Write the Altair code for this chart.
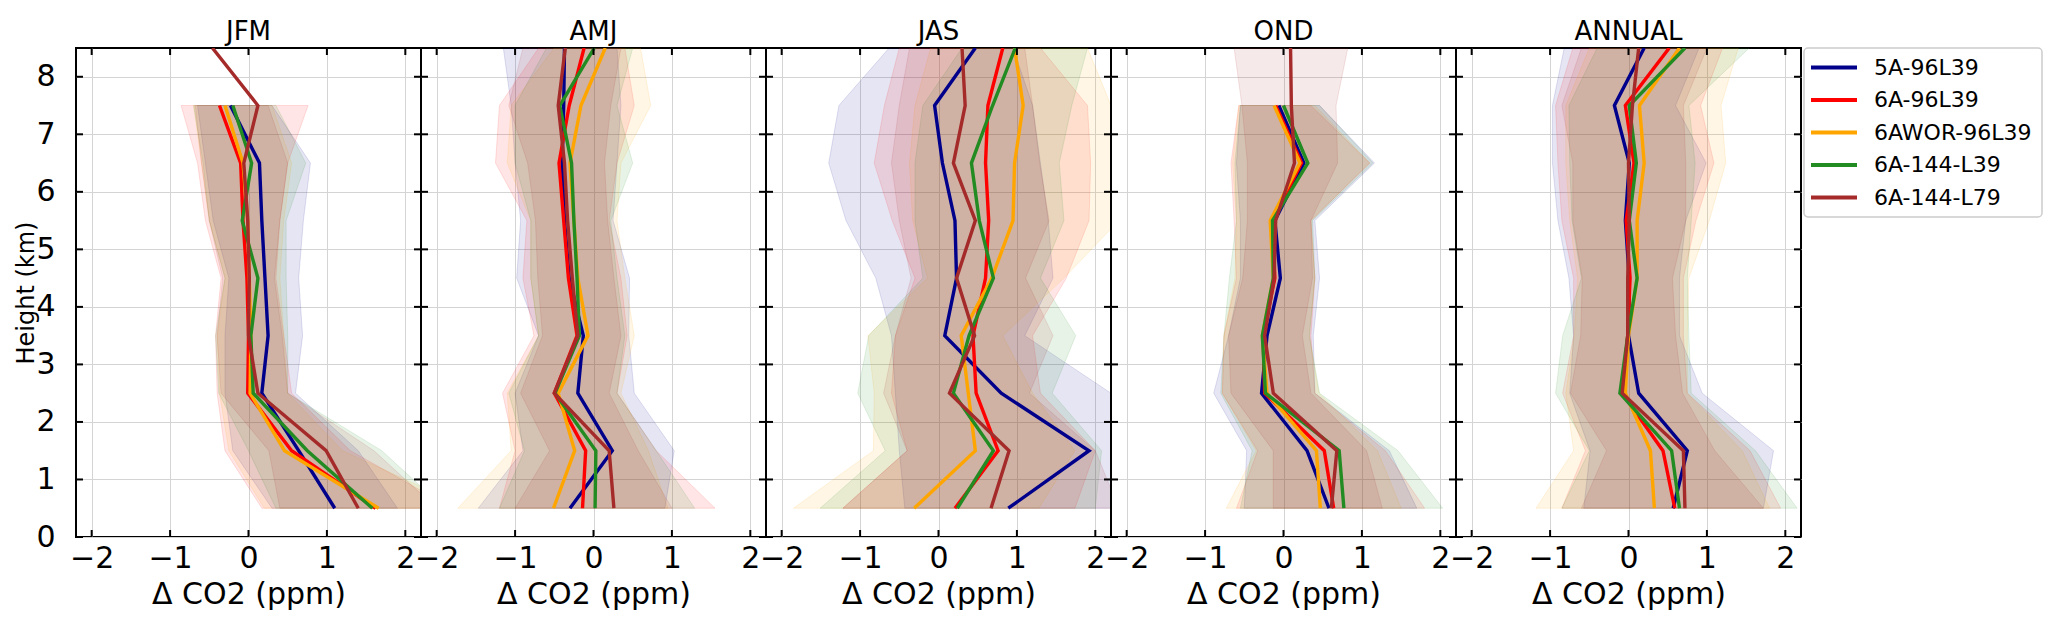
import altair as alt
import pandas as pd

HEIGHTS = [0.5, 1.5, 2.5, 3.5, 4.5, 5.5, 6.5, 7.5, 8.5]
SERIES = ["5A-96L39", "6A-96L39", "6AWOR-96L39", "6A-144-L39", "6A-144-L79"]
COLORS = ["darkblue", "red", "orange", "forestgreen", "brown"]
X_TICKS = [-2, -1, 0, 1, 2]
Y_TICKS = [0, 1, 2, 3, 4, 5, 6, 7, 8]

# --- JFM ---
JFM_MEAN = {
    "5A-96L39": [1.10, 0.64, 0.17, 0.25, 0.21, 0.17, 0.14, -0.23],
    "6A-96L39": [1.62, 0.55, -0.01, 0.00, -0.02, -0.07, -0.10, -0.37],
    "6AWOR-96L39": [1.66, 0.46, 0.02, 0.03, 0.01, -0.01, -0.07, -0.30],
    "6A-144-L39": [1.58, 0.75, 0.06, 0.03, 0.12, -0.08, 0.04, -0.20],
    "6A-144-L79": [1.40, 0.99, 0.12, 0.00, 0.01, -0.01, -0.06, 0.12, -0.46],
}
JFM_LO = {
    "5A-96L39": [0.30, -0.20, -0.30, -0.30, -0.25, -0.45, -0.55, -0.65],
    "6A-96L39": [0.17, -0.30, -0.40, -0.42, -0.35, -0.55, -0.65, -0.86],
    "6AWOR-96L39": [0.20, -0.25, -0.37, -0.40, -0.30, -0.50, -0.60, -0.70],
    "6A-144-L39": [0.35, 0.00, -0.38, -0.42, -0.30, -0.50, -0.58, -0.70],
    "6A-144-L79": [0.40, 0.26, -0.35, -0.40, -0.33, -0.50, -0.60, -0.68],
}
JFM_HI = {
    "5A-96L39": [1.90, 1.40, 0.60, 0.69, 0.64, 0.70, 0.79, 0.30],
    "6A-96L39": [2.60, 1.30, 0.55, 0.45, 0.35, 0.40, 0.50, 0.76],
    "6AWOR-96L39": [2.80, 1.20, 0.50, 0.45, 0.40, 0.45, 0.55, 0.30],
    "6A-144-L39": [2.50, 1.70, 0.50, 0.50, 0.48, 0.48, 0.73, 0.35],
    "6A-144-L79": [2.40, 1.60, 0.50, 0.43, 0.33, 0.40, 0.50, 0.25],
}

# --- AMJ ---
AMJ_MEAN = {
    "5A-96L39": [-0.30, 0.24, -0.20, -0.13, -0.31, -0.37, -0.40, -0.38, -0.37],
    "6A-96L39": [-0.14, -0.10, -0.50, -0.21, -0.32, -0.38, -0.44, -0.31, -0.12],
    "6AWOR-96L39": [-0.51, -0.24, -0.45, -0.07, -0.20, -0.25, -0.30, -0.16, 0.15],
    "6A-144-L39": [0.02, 0.03, -0.49, -0.18, -0.21, -0.25, -0.28, -0.43, 0.01],
    "6A-144-L79": [0.26, 0.20, -0.50, -0.20, -0.27, -0.33, -0.37, -0.45, -0.36],
}
AMJ_LO = {
    "5A-96L39": [-1.47, -0.90, -1.00, -0.70, -0.98, -0.93, -1.00, -1.05, -1.15],
    "6A-96L39": [-1.20, -1.00, -1.16, -0.76, -0.90, -0.85, -1.25, -1.20, -0.70],
    "6AWOR-96L39": [-1.73, -1.05, -1.10, -0.70, -0.80, -0.80, -1.10, -1.05, -0.50],
    "6A-144-L39": [-1.20, -0.88, -1.08, -0.70, -0.80, -0.80, -1.00, -1.00, -0.60],
    "6A-144-L79": [-1.00, -0.56, -0.93, -0.65, -0.71, -0.74, -0.84, -1.08, -0.90],
}
AMJ_HI = {
    "5A-96L39": [0.91, 1.03, 0.52, 0.45, 0.46, 0.25, 0.30, 0.35, 0.30],
    "6A-96L39": [1.55, 0.80, 0.30, 0.43, 0.35, 0.20, 0.30, 0.52, 0.40],
    "6AWOR-96L39": [0.95, 0.70, 0.35, 0.52, 0.40, 0.30, 0.35, 0.73, 0.60],
    "6A-144-L39": [1.29, 0.80, 0.30, 0.40, 0.30, 0.22, 0.50, 0.30, 0.50],
    "6A-144-L79": [1.00, 0.57, 0.20, 0.35, 0.26, 0.18, 0.14, 0.22, 0.35],
}

# --- JAS ---
JAS_MEAN = {
    "5A-96L39": [0.89, 1.92, 0.80, 0.08, 0.23, 0.21, 0.05, -0.05, 0.47],
    "6A-96L39": [0.21, 0.76, 0.48, 0.44, 0.60, 0.64, 0.60, 0.63, 0.82],
    "6AWOR-96L39": [-0.31, 0.47, 0.38, 0.29, 0.68, 0.95, 0.97, 1.08, 0.97],
    "6A-144-L39": [0.24, 0.70, 0.19, 0.39, 0.70, 0.52, 0.42, 0.69, 0.98],
    "6A-144-L79": [0.67, 0.90, 0.14, 0.46, 0.23, 0.47, 0.19, 0.34, 0.30],
}
JAS_LO = {
    "5A-96L39": [-0.43, -0.50, -0.55, -0.60, -0.80, -1.18, -1.40, -1.27, -0.63],
    "6A-96L39": [-1.22, -0.40, -0.60, -0.55, -0.30, -0.59, -0.82, -0.69, -0.50],
    "6AWOR-96L39": [-1.85, -0.83, -0.82, -0.90, -0.14, -0.33, -0.37, -0.30, -0.10],
    "6A-144-L39": [-1.51, -0.68, -1.03, -0.89, -0.20, -0.30, -0.30, -0.20, 0.30],
    "6A-144-L79": [-1.22, -0.40, -0.70, -0.55, -0.35, -0.50, -0.60, -0.50, -0.37],
}
JAS_HI = {
    "5A-96L39": [2.40, 2.40, 2.20, 1.10, 1.46, 1.40, 1.30, 1.20, 0.95],
    "6A-96L39": [1.74, 2.00, 1.30, 1.20, 1.63, 1.92, 1.94, 1.90, 1.30],
    "6AWOR-96L39": [1.28, 1.74, 1.20, 0.82, 1.60, 2.30, 2.30, 2.20, 1.90],
    "6A-144-L39": [2.00, 2.08, 1.45, 1.75, 1.30, 1.60, 1.54, 1.70, 1.90],
    "6A-144-L79": [2.30, 2.00, 1.16, 1.46, 1.11, 1.41, 1.29, 1.20, 1.10],
}

# --- OND ---
OND_MEAN = {
    "5A-96L39": [0.58, 0.30, -0.28, -0.21, -0.04, -0.11, 0.26, -0.06],
    "6A-96L39": [0.64, 0.52, -0.24, -0.26, -0.11, -0.14, 0.23, -0.10],
    "6AWOR-96L39": [0.47, 0.42, -0.21, -0.27, -0.13, -0.17, 0.21, -0.12],
    "6A-144-L39": [0.77, 0.71, -0.23, -0.27, -0.13, -0.14, 0.31, 0.00],
    "6A-144-L79": [0.61, 0.68, -0.13, -0.24, -0.12, -0.10, 0.14, 0.10, 0.09],
}
OND_LO = {
    "5A-96L39": [-0.50, -0.47, -0.89, -0.70, -0.55, -0.55, -0.60, -0.55],
    "6A-96L39": [-0.60, -0.33, -0.78, -0.76, -0.60, -0.63, -0.67, -0.57],
    "6AWOR-96L39": [-0.73, -0.35, -0.78, -0.76, -0.62, -0.60, -0.65, -0.57],
    "6A-144-L39": [-0.55, -0.40, -0.80, -0.76, -0.69, -0.60, -0.62, -0.55],
    "6A-144-L79": [-0.13, -0.13, -0.67, -0.70, -0.52, -0.46, -0.46, -0.53, -0.63],
}
OND_HI = {
    "5A-96L39": [1.70, 1.35, 0.40, 0.38, 0.46, 0.40, 1.16, 0.46],
    "6A-96L39": [1.80, 1.30, 0.40, 0.35, 0.40, 0.35, 1.10, 0.35],
    "6AWOR-96L39": [1.50, 1.20, 0.45, 0.33, 0.40, 0.35, 1.10, 0.40],
    "6A-144-L39": [2.03, 1.46, 0.46, 0.33, 0.40, 0.37, 1.14, 0.46],
    "6A-144-L79": [1.26, 1.06, 0.35, 0.24, 0.37, 0.35, 0.69, 0.67, 0.82],
}

# --- ANNUAL ---
ANN_MEAN = {
    "5A-96L39": [0.57, 0.75, 0.13, 0.00, 0.01, -0.04, 0.01, -0.18, 0.20],
    "6A-96L39": [0.59, 0.44, -0.08, -0.01, 0.02, -0.03, 0.07, -0.04, 0.52],
    "6AWOR-96L39": [0.33, 0.28, -0.04, 0.00, 0.11, 0.11, 0.20, 0.14, 0.65],
    "6A-144-L39": [0.65, 0.55, -0.11, -0.01, 0.11, 0.01, 0.10, 0.01, 0.72],
    "6A-144-L79": [0.72, 0.70, -0.08, -0.01, -0.01, 0.01, 0.00, 0.05, 0.13],
}
ANN_LO = {
    "5A-96L39": [-0.57, -0.49, -0.75, -0.70, -0.76, -0.90, -0.97, -0.97, -0.82],
    "6A-96L39": [-0.85, -0.55, -0.84, -0.70, -0.70, -0.85, -0.90, -0.93, -0.71],
    "6AWOR-96L39": [-1.18, -0.70, -0.80, -0.69, -0.65, -0.75, -0.80, -0.80, -0.50],
    "6A-144-L39": [-0.85, -0.50, -0.93, -0.84, -0.60, -0.72, -0.75, -0.76, -0.40],
    "6A-144-L79": [-0.60, -0.28, -0.74, -0.61, -0.59, -0.71, -0.71, -0.85, -0.60],
}
ANN_HI = {
    "5A-96L39": [1.72, 1.85, 0.94, 0.65, 0.65, 0.73, 0.99, 0.60, 0.90],
    "6A-96L39": [1.94, 1.55, 0.75, 0.70, 0.70, 0.86, 1.09, 0.92, 1.20],
    "6AWOR-96L39": [1.80, 1.45, 0.75, 0.75, 0.77, 1.03, 1.24, 1.18, 1.40],
    "6A-144-L39": [2.15, 1.62, 0.80, 0.77, 0.75, 0.80, 0.85, 0.77, 1.54],
    "6A-144-L79": [1.72, 1.10, 0.69, 0.60, 0.56, 0.73, 0.73, 0.70, 1.00],
}

SEASONS = [
    ("JFM", JFM_MEAN, JFM_LO, JFM_HI),
    ("AMJ", AMJ_MEAN, AMJ_LO, AMJ_HI),
    ("JAS", JAS_MEAN, JAS_LO, JAS_HI),
    ("OND", OND_MEAN, OND_LO, OND_HI),
    ("ANNUAL", ANN_MEAN, ANN_LO, ANN_HI),
]

W, H = 345, 489
FONT = "DejaVu Sans"
TICK_LEN = 7

x_scale = alt.Scale(domain=[-2.2, 2.2], nice=False, zero=False)
y_scale = alt.Scale(domain=[0, 8.5], nice=False, zero=False)
color_scale = alt.Scale(domain=SERIES, range=COLORS)


def to_frames(mean, lo, hi):
    lines, bands = [], []
    for s in SERIES:
        for h, v in zip(HEIGHTS, mean[s]):
            lines.append({"series": s, "h": h, "x": v})
        for h, a, b in zip(HEIGHTS, lo[s], hi[s]):
            bands.append({"series": s, "h": h, "lo": a, "hi": b})
    return pd.DataFrame(lines), pd.DataFrame(bands)


def make_panel(name, mean, lo, hi, first):
    lines, bands = to_frames(mean, lo, hi)

    x_axis = alt.Axis(values=X_TICKS, title="Δ CO2 (ppm)", ticks=False, domain=False,
                      labelPadding=6, titlePadding=6, labelOverlap=False, labelFlush=False,
                      format="d")
    if first:
        y_axis = alt.Axis(values=Y_TICKS, title="Height (km)", ticks=False, domain=False,
                          labelPadding=21, titlePadding=-3, titleFontSize=24, format="d")
    else:
        y_axis = alt.Axis(values=Y_TICKS, title="", labels=False, ticks=False, domain=False)

    X = lambda f: alt.X(f, scale=x_scale, axis=x_axis)
    Y = alt.Y("h:Q", scale=y_scale, axis=y_axis)
    col = alt.Color("series:N", scale=color_scale, legend=None)

    layers = []
    for s in SERIES:
        layers.append(
            alt.Chart(bands).transform_filter(alt.datum.series == s)
            .mark_area(orient="horizontal", fillOpacity=0.1, strokeOpacity=0.12,
                       strokeWidth=1, clip=True)
            .encode(x=X("lo:Q"), x2="hi:Q", y=Y, color=col,
                    stroke=alt.Stroke("series:N", scale=color_scale, legend=None))
        )
    for s in SERIES:
        layers.append(
            alt.Chart(lines).transform_filter(alt.datum.series == s)
            .mark_line(strokeWidth=3.4, clip=True)
            .encode(x=X("x:Q"), y=Y, color=col, order=alt.Order("h:Q"))
        )

    xt = pd.DataFrame({"x": X_TICKS})
    yt = pd.DataFrame({"h": Y_TICKS})
    rule = dict(color="black", strokeWidth=2)
    layers += [
        alt.Chart(xt).mark_rule(**rule).encode(x=X("x:Q"), y=alt.value(H), y2=alt.value(H - TICK_LEN)),
        alt.Chart(xt).mark_rule(**rule).encode(x=X("x:Q"), y=alt.value(0), y2=alt.value(TICK_LEN)),
        alt.Chart(yt).mark_rule(**rule).encode(y=Y, x=alt.value(0), x2=alt.value(TICK_LEN)),
        alt.Chart(yt).mark_rule(**rule).encode(y=Y, x=alt.value(W), x2=alt.value(W - TICK_LEN)),
    ]

    return alt.layer(*layers).properties(
        width=W, height=H,
        title=alt.TitleParams(text=name, fontSize=26, font=FONT, fontWeight="normal",
                              offset=2, anchor="middle", color="black"),
    )


panels = [make_panel(n, m, l, h, i == 0) for i, (n, m, l, h) in enumerate(SEASONS)]

# legend box
LEG_W, LEG_H = 245, 169
leg = pd.DataFrame({"series": SERIES})
leg_frame = alt.Chart(pd.DataFrame({"k": [0]})).mark_rect(
    fill="white", stroke="#cccccc", strokeWidth=1.5, cornerRadius=4
).encode(x=alt.value(3), x2=alt.value(LEG_W - 4), y=alt.value(0), y2=alt.value(LEG_H))
leg_base = alt.Chart(leg).encode(
    y=alt.Y("series:N", sort=SERIES, axis=None, scale=alt.Scale(type="point", padding=0.6))
)
leg_lines = leg_base.mark_rule(strokeWidth=4).encode(
    x=alt.value(10), x2=alt.value(56),
    color=alt.Color("series:N", scale=color_scale, legend=None),
)
leg_text = leg_base.mark_text(align="left", baseline="middle", fontSize=22, font=FONT,
                              color="black").encode(x=alt.value(73), text="series:N")
legend_box = (leg_frame + leg_lines + leg_text).properties(
    width=LEG_W, height=LEG_H,
    view=alt.ViewBackground(stroke="transparent"),
)

chart = alt.hconcat(*panels, legend_box, spacing=0, bounds="flush").configure(
    padding={"left": 5, "top": 10, "right": 5, "bottom": 5},
    background="white",
).configure_view(
    stroke="black", strokeWidth=2,
).configure_axis(
    grid=True, gridColor="#d4d4d4", gridWidth=1,
    labelFont=FONT, titleFont=FONT, labelFontSize=30, titleFontSize=30,
    labelColor="black", titleColor="black", titleFontWeight="normal",
)

chart.save("out.html", embed_options={"renderer": "svg", "actions": False})
